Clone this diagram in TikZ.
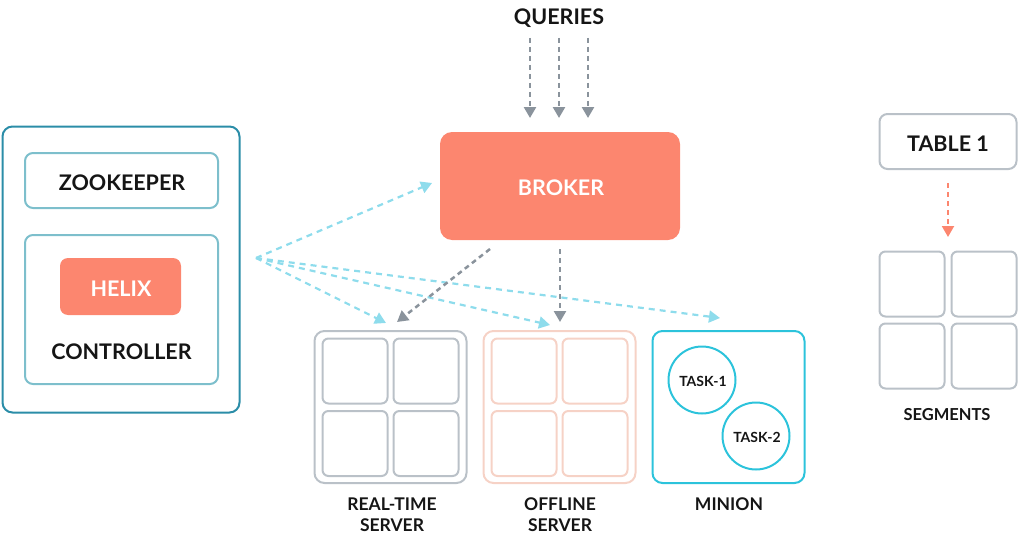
\documentclass[tikz,border=0pt]{standalone}
\usepackage{fontspec}
\setmainfont{Lato}
\usetikzlibrary{arrows.meta,calc}
\definecolor{salmon}{HTML}{FC866F}
\definecolor{cyanarr}{HTML}{8EDCEC}
\definecolor{grayarr}{HTML}{8A939C}
\definecolor{ctrlc}{HTML}{2B8DA8}
\definecolor{zkc}{HTML}{7DBFCC}
\definecolor{rtc}{HTML}{BAC1C8}
\definecolor{offc}{HTML}{F6D2C6}
\definecolor{minc}{HTML}{2CC3DB}
\definecolor{txt}{HTML}{151515}
\tikzset{
  bigfont/.style={font=\fontsize{21.5}{26}\selectfont\bfseries},
  box/.style={draw, rounded corners=8pt, line width=2pt, inner sep=0pt, text=txt},
  cell/.style={draw, rounded corners=6pt, line width=2pt, inner sep=0pt, minimum width=65, minimum height=65},
  fillbox/.style={fill=salmon, rounded corners=10pt, inner sep=0pt, text=white, bigfont},
  lbl/.style={font=\fontsize{17.5}{21.5}\selectfont\bfseries, text=txt, align=center},
  task/.style={draw=minc, line width=2pt, circle, minimum size=67, inner sep=0pt, font=\fontsize{14}{16}\selectfont\bfseries, text=txt},
  carr/.style={draw=cyanarr, line width=2.2pt, dash pattern=on 6pt off 5pt, -{Triangle[length=11pt,width=12pt]}, cyanarr},
  garr/.style={draw=grayarr, line width=2.5pt, dash pattern=on 5pt off 4pt, -{Triangle[length=11pt,width=12pt]}, grayarr},
  sarr/.style={draw=salmon, line width=2pt, dash pattern=on 5pt off 4pt, -{Triangle[length=11pt,width=12pt]}, salmon},
}
\begin{document}
\begin{tikzpicture}[x=1pt,y=-1pt]
\useasboundingbox (0,0) rectangle (1018,535);
% controller group
\node[box, draw=ctrlc, rounded corners=10pt, minimum width=237, minimum height=286] (ctrl) at (121,269.5) {};
\node[box, draw=zkc, minimum width=193, minimum height=55] (zk) at (121.5,180.5) {};
\node[bigfont, text=txt] (zkt) at (122,183) {ZOOKEEPER};
\node[box, draw=zkc, minimum width=193, minimum height=149] (ctrlin) at (121.5,309.5) {};
\node[fillbox, rounded corners=8pt, minimum width=121, minimum height=57] (helix) at (120.5,286.5) {};
\node[bigfont, text=white] (helixt) at (121,289) {HELIX};
\node[bigfont, text=txt] (ctrltxt) at (121.5,352) {CONTROLLER};
% broker
\node[fillbox, rounded corners=12pt, minimum width=240, minimum height=108] (broker) at (560,186) {};
\node[bigfont, text=white] (brokert) at (561,188) {BROKER};
\node[bigfont, text=txt, anchor=base] (queries) at (559,25) {QUERIES};
\foreach \i/\x in {1/530,2/559,3/588}{
  \coordinate (qs\i) at (\x,38);
  \coordinate (qe\i) at (\x,118);
  \draw[garr] (qs\i) -- (qe\i);
}
% servers
\node[box, draw=rtc, rounded corners=10pt, minimum width=152, minimum height=152] (rt) at (390.5,407) {};
\node[box, draw=offc, rounded corners=10pt, minimum width=152, minimum height=152] (off) at (559.5,407) {};
\node[box, draw=minc, rounded corners=10pt, minimum width=152, minimum height=152] (minion) at (728.5,407) {};
\foreach \dx/\dy/\n in {-35.5/-36/a,35.5/-36/b,-35.5/36.5/c,35.5/36.5/d}{
  \node[cell, draw=rtc] (rt\n) at ($(390.5,407)+(\dx,\dy)$) {};
  \node[cell, draw=offc] (off\n) at ($(559.5,407)+(\dx,\dy)$) {};
}
\node[task] (t1) at (702,380) {};
\node[task] (t2) at (756,436) {};
\node[task, draw=none] (t1t) at (703,381.5) {TASK-1};
\node[task, draw=none] (t2t) at (757,437.5) {TASK-2};
\node[lbl] (rtl) at (392,514.5) {REAL-TIME\\SERVER};
\node[lbl] (offl) at (560,514.5) {OFFLINE\\SERVER};
\node[lbl] (minl) at (729,504) {MINION};
% table / segments
\node[box, draw=rtc, minimum width=137, minimum height=55] (table) at (948,141.5) {};
\node[bigfont, text=txt] (tablet) at (948,144) {TABLE 1};
\foreach \x/\y/\n in {912/284/a,984/284/b,912/356/c,984/356/d}{
  \node[cell, draw=rtc] (seg\n) at (\x,\y) {};
}
\node[font=\fontsize{16.5}{18}\selectfont\bfseries, text=txt] (segl) at (947,415) {SEGMENTS};
\coordinate (ts) at (948,183);
\coordinate (te) at (948,237);
\draw[sarr] (ts) -- (te);
% arrows from controller
\coordinate (src) at (256,258);
\coordinate (cb) at (432,183);
\coordinate (crt) at (386,323);
\coordinate (coff) at (550,325);
\coordinate (cmin) at (720,318);
\draw[carr] (src) -- (cb);
\draw[carr] (src) -- (crt);
\draw[carr] (src) -- (coff);
\draw[carr] (src) -- (cmin);
% broker to servers
\coordinate (bs1) at (490,249);
\coordinate (be1) at (397,322);
\coordinate (bs2) at (560,249);
\coordinate (be2) at (560,322);
\draw[garr] (bs1) -- (be1);
\draw[garr] (bs2) -- (be2);
\end{tikzpicture}
\end{document}
